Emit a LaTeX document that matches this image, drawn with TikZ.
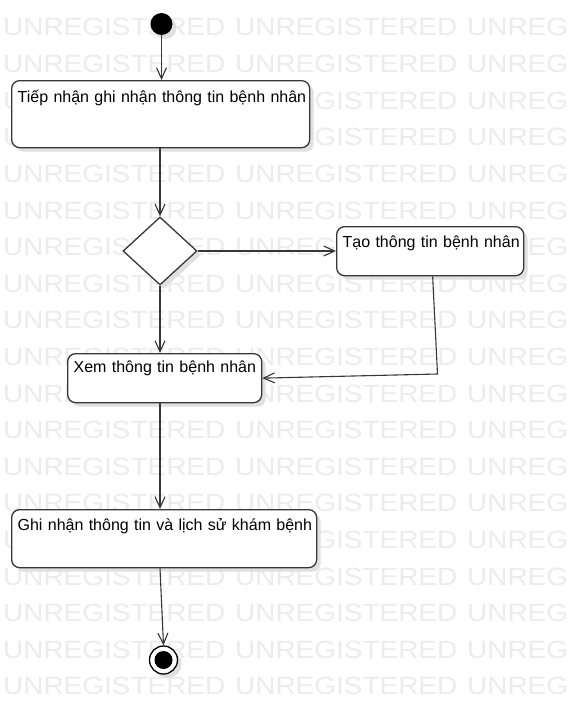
\documentclass[tikz,border=0pt]{standalone}
\usepackage{fontspec}
\setmainfont{Liberation Sans}
\usetikzlibrary{arrows.meta,shapes.geometric}
\definecolor{wm}{RGB}{236,236,236}
\definecolor{ln}{RGB}{55,55,55}
\definecolor{shd}{RGB}{224,224,224}
\begin{document}
\begin{tikzpicture}[x=1pt,y=-1pt,
  shadowed/.style={preaction={fill=shd, transform canvas={shift={(4pt,-4pt)}}}},
  act/.style={shadowed, draw=ln, line width=1.3pt, fill=white, rounded corners=8pt,
    inner xsep=6pt, inner ysep=0pt, align=left, anchor=north west,
    font=\fontsize{16}{18}\selectfont, text=black},
  flow/.style={draw=ln, line width=1.1pt, -{Straight Barb[length=11pt,width=10pt,line width=1.1pt]}},
  wmtext/.style={text=wm, font=\fontsize{25}{25}\selectfont, anchor=base west, inner sep=0pt}
]
\useasboundingbox (0,0) rectangle (568,725);
\fill[white] (0,0) rectangle (568,725);
\begin{scope}
  \clip (0,0) rectangle (568,725);
  \foreach \k in {0,...,18}
    \foreach \c in {3,235,467}
      \node[wmtext] at (\c,{36+36.6*\k}) {\scalebox{1.118}[1]{UNREGISTERED}};
\end{scope}

% nodes
\node[shadowed, circle, fill=black, minimum size=22pt, inner sep=0pt] (start) at (161.5,24) {};
\node[act, text width=286pt, text height=22pt, text depth=45pt] (b1) at (11,80)
  {\mbox{Tiếp nhận ghi nhận thông tin bệnh nhân}};
\node[shadowed, diamond, draw=ln, line width=1.3pt, fill=white, minimum width=74pt,
  minimum height=68pt, inner sep=0pt] (dia) at (160,251) {};
\node[act, text width=175pt, text height=21pt, text depth=28pt] (tao) at (336,226)
  {\mbox{Tạo thông tin bệnh nhân}};
\node[act, text width=182pt, text height=19pt, text depth=30pt] (xem) at (67,353)
  {\mbox{Xem thông tin bệnh nhân}};
\node[act, text width=293pt, text height=21pt, text depth=37pt] (ghi) at (11,509)
  {\mbox{Ghi nhận thông tin và lịch sử khám bệnh}};
\node[shadowed, circle, draw=black, line width=1.3pt, fill=white, minimum size=28pt,
  inner sep=0pt] (end) at (163.5,660) {};
\node[circle, fill=black, minimum size=18pt, inner sep=0pt] (endin) at (end.center) {};

% connectors
\draw[flow] (start.south) -- (start.south |- b1.north);
\draw[flow] (dia.north |- b1.south) -- (dia.north);
\draw[flow] (dia.east) -- (dia.east -| tao.west);
\draw[flow] (dia.south) -- (dia.south |- xem.north);
\coordinate (bend) at (437.5,374);
\draw[flow] ([xshift=2.5pt]tao.south) -- (bend) -- (xem.east);
\draw[flow] (dia.south |- xem.south) -- (dia.south |- ghi.north);
\draw[flow] (dia.south |- ghi.south) -- (end.north);
\end{tikzpicture}
\end{document}
